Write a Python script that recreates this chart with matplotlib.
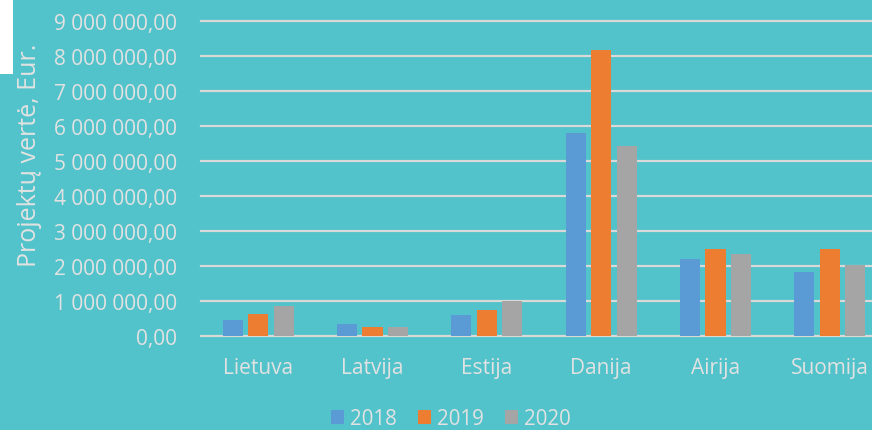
# plot.py
# Project values by country, 2018-2020

import numpy as np
import matplotlib
matplotlib.use('agg')
import matplotlib.pyplot as plt
from matplotlib.ticker import FuncFormatter
from matplotlib.patches import Rectangle

### Data ###
countries = ['Lietuva', 'Latvija', 'Estija', 'Danija', 'Airija', 'Suomija']
years = ['2018', '2019', '2020']
v2018 = [460000, 340000, 600000, 5790000, 2200000, 1820000]
v2019 = [630000, 250000, 730000, 8180000, 2490000, 2500000]
v2020 = [850000, 270000, 1000000, 5420000, 2330000, 2030000]

### Style ###
BG = '#52C3CA'
TXT = '#E2E2E2'
GRID = '#D9D9D9'
colors = ['#5B9BD5', '#ED7D31', '#A5A5A5']
plt.rcParams['font.family'] = ['Open Sans', 'DejaVu Sans']

W, H = 872, 431
fig = plt.figure(figsize=(W / 100, H / 100), dpi=100, facecolor=BG)
# axes spans past the right edge (chart is cropped there)
x0, x1, ytop, ybot = 201, 887, 22, 337
ax = fig.add_axes([x0 / W, (H - ybot) / H, (x1 - x0) / W, (ybot - ytop) / H])
ax.set_facecolor(BG)

x = np.arange(len(countries))
bw = 0.175
off = 0.223
for i, (vals, c, lab) in enumerate(zip([v2018, v2019, v2020], colors, years)):
    ax.bar(x + (i - 1) * off, vals, width=bw, color=c, label=lab, zorder=3)

ax.set_xlim(-0.5, len(countries) - 0.5)
ax.set_ylim(0, 9e6)
ax.set_yticks(np.arange(0, 9e6 + 1, 1e6))
ax.yaxis.set_major_formatter(FuncFormatter(
    lambda v, p: f"{v:,.2f}".replace(',', ' ').replace('.', ',')))
ax.set_xticks(x)
ax.set_xticklabels(countries)
ax.grid(axis='y', color=GRID, linewidth=1.6, zorder=0)
for ln in ax.get_ygridlines():
    ln.set_clip_on(False)
for s in ax.spines.values():
    s.set_visible(False)
ax.tick_params(axis='both', length=0, colors=TXT, labelsize=15)
ax.tick_params(axis='y', pad=17)
ax.tick_params(axis='x', pad=15)

fig.text(30 / W, (H - 155) / H, 'Projektų vertė, Eur.', rotation=90, color=TXT,
         fontsize=18, ha='center', va='center')

leg = fig.legend(loc='center', bbox_to_anchor=(451 / W, (H - 420) / H), ncol=3,
                 frameon=False, fontsize=14.8, handlelength=0.65, handleheight=0.65,
                 handletextpad=0.3, columnspacing=1.0, borderaxespad=0)
for t in leg.get_texts():
    t.set_color(TXT)

# white patch in the top-left corner of the source image
fig.patches.append(Rectangle((0, (H - 75) / H), 13 / W, 75 / H,
                             transform=fig.transFigure, facecolor='white',
                             edgecolor='none', zorder=10))

plt.savefig('out.png', dpi=100, facecolor=BG)
